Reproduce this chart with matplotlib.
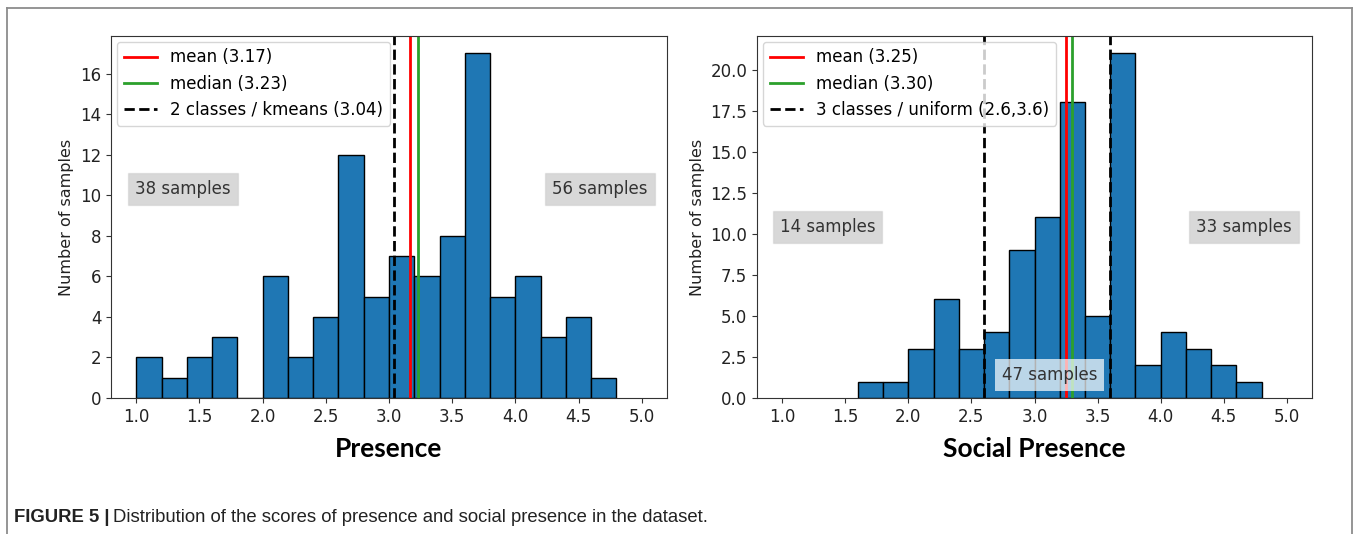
import matplotlib
matplotlib.use("Agg")
import matplotlib.pyplot as plt
import numpy as np
from matplotlib.lines import Line2D

# histogram bins (width 0.2) and counts
pres_edges = np.round(np.arange(1.0, 4.81, 0.2), 2)
pres_counts = [2, 1, 2, 3, 0, 6, 2, 4, 12, 5, 7, 6, 8, 17, 5, 6, 3, 4, 1]
pres_mean, pres_median, pres_split = 3.17, 3.23, [3.04]
pres_labels = ["mean (3.17)", "median (3.23)", "2 classes / kmeans (3.04)"]
pres_boxes = [("38 samples", 1.37, 10.3), ("56 samples", 4.67, 10.3)]

soc_edges = np.round(np.arange(1.6, 4.81, 0.2), 2)
soc_counts = [1, 1, 3, 6, 3, 4, 9, 11, 18, 5, 21, 2, 4, 3, 2, 1]
soc_mean, soc_median, soc_split = 3.25, 3.30, [2.6, 3.6]
soc_labels = ["mean (3.25)", "median (3.30)", "3 classes / uniform (2.6,3.6)"]
soc_boxes = [("14 samples", 1.36, 10.4), ("33 samples", 4.66, 10.4)]
soc_mid_box = ("47 samples", 3.12, 1.4)

W, H = 1358, 534
fig = plt.figure(figsize=(W / 100, H / 100), dpi=100)

FS = 12


def panel(rect, edges, counts, mean, median, splits, labels, boxes, xlabel):
    ax = fig.add_axes(rect)
    ax.hist(edges[:-1], bins=edges, weights=counts, color="#1f77b4",
            edgecolor="black", linewidth=1.0)
    l1 = ax.axvline(mean, color="red", lw=2)
    l2 = ax.axvline(median, color="tab:green", lw=2)
    l3 = None
    for s in splits:
        l3 = ax.axvline(s, color="black", ls="--", lw=2)
    ax.legend([l1, l2, l3], labels, loc="upper left", fontsize=FS,
              handlelength=2.0, borderaxespad=0.35)
    for txt, x, y in boxes:
        ax.text(x, y, txt, ha="center", va="center", fontsize=FS,
                color="#333333",
                bbox=dict(facecolor="gray", alpha=0.3, edgecolor="#bbbbbb",
                          pad=5))
    ax.set_xlim(0.8, 5.2)
    ax.set_xticks(np.arange(1.0, 5.01, 0.5))
    ax.tick_params(labelsize=FS, colors="#333333", labelcolor="#222222")
    ax.set_ylabel("Number of samples", fontsize=FS - 0.5, color="#222222")
    ax.set_xlabel(xlabel, fontsize=19, fontweight="bold", family="Lato",
                  labelpad=8)
    for sp in ax.spines.values():
        sp.set_color("#333333")
    return ax


ax1 = panel([111 / W, 136 / H, 556 / W, 362 / H], pres_edges, pres_counts,
            pres_mean, pres_median, pres_split, pres_labels, pres_boxes,
            "Presence")
ax2 = panel([757 / W, 136 / H, 555 / W, 362 / H], soc_edges, soc_counts,
            soc_mean, soc_median, soc_split, soc_labels, soc_boxes,
            "Social Presence")
txt, x, y = soc_mid_box
ax2.text(x, y, txt, ha="center", va="center", fontsize=FS,
         color="#333333",
         bbox=dict(facecolor="white", alpha=0.7, edgecolor="none", pad=5))

# outer frame of the journal figure (open at the bottom)
fc = "#8c8c8c"
fig.add_artist(Line2D([7 / W, 7 / W], [0, 1 - 8 / H], color=fc, lw=1.3))
fig.add_artist(Line2D([7 / W, 1352 / W], [1 - 8 / H, 1 - 8 / H], color=fc, lw=1.3))
fig.add_artist(Line2D([1352 / W, 1352 / W], [0, 1 - 8 / H], color=fc, lw=1.3))

# caption
cap_y = (H - 517) / H
t1 = fig.text(14 / W, cap_y, "FIGURE 5 |", fontsize=13.3, fontweight="bold",
              family="Liberation Sans", va="center", color="#222222")
fig.canvas.draw()
bb = t1.get_window_extent()
fig.text((bb.x1 + 4) / W, cap_y,
         "Distribution of the scores of presence and social presence in the dataset.",
         fontsize=13.3, family="Liberation Sans", va="center", color="#222222")

fig.savefig("out.png", dpi=100)
